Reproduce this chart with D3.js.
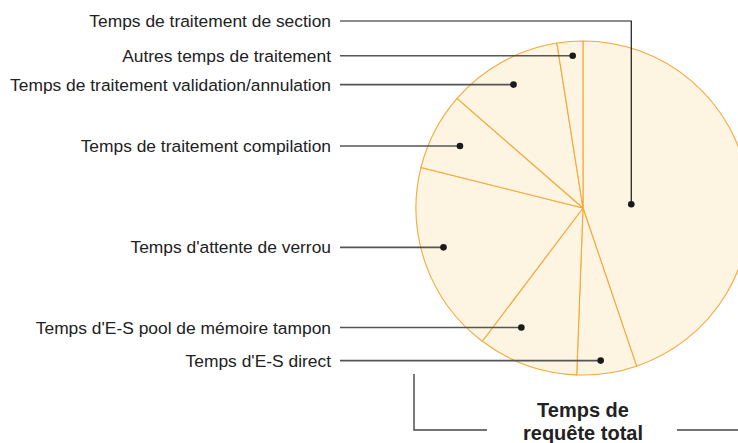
<!DOCTYPE html>
<html>
<head>
<meta charset="utf-8">
<script src="https://cdn.jsdelivr.net/npm/d3@7"></script>
<style>
  body { margin: 0; background: #fff; }
  svg { display: block; font-family: "Liberation Sans", Arial, sans-serif; }
</style>
</head>
<body>
<div id="chart"></div>
<script>
const width = 738
const height = 443

// slices, clockwise from 12 o'clock (share of total request time, %)
const categories = [
    "Temps de traitement de section",
    "Temps d'E-S direct",
    "Temps d'E-S pool de mémoire tampon",
    "Temps d'attente de verrou",
    "Temps de traitement compilation",
    "Temps de traitement validation/annulation",
    "Autres temps de traitement"
]
const values = [44.8, 5.8, 9.7, 18.6, 7.5, 11.1, 2.5]
const titleLines = ["Temps de", "requête total"]

const cx = 583, cy = 208, R = 167
const labelRight = 331 // right edge of label text
const lineStart = 340

// where each leader dot sits inside its slice: share of the slice angle, share of the radius
const dotAngle = [0.53, 0.58, 0.72, 0.555, 0.47, 0.49, 0.57]
const dotRadius = [0.29, 0.92, 0.805, 0.868, 0.825, 0.848, 0.914]

const svg = d3.select("#chart").append("svg")
    .attr("width", width)
    .attr("height", height)

const data = categories.map((c, i) => ({ name: c, value: values[i] }))

const pie = d3.pie().sort(null).value(d => d.value)
const arcs = pie(data)
const arc = d3.arc().innerRadius(0).outerRadius(R)

const g = svg.append("g").attr("transform", `translate(${cx},${cy})`)

g.selectAll("path.slice")
    .data(arcs)
    .enter()
    .append("path")
    .attr("class", "slice")
    .attr("d", arc)
    .attr("fill", "#fdf5e1")
    .attr("stroke", "#f2a93b")
    .attr("stroke-width", 1.1)
    .attr("stroke-linejoin", "round")

function dotPos(d, i) {
    const a = d.startAngle + (d.endAngle - d.startAngle) * dotAngle[i]
    const r = R * dotRadius[i]
    return [cx + r * Math.sin(a), cy - r * Math.cos(a)]
}

const labels = arcs.map((d, i) => {
    const p = dotPos(d, i)
    return { name: d.data.name, x: p[0], y: p[1], i: i }
})

// the big slice is labelled from the top with an elbow line
const topY = 21
labels.forEach(l => { l.ly = l.i === 0 ? topY : l.y })

svg.selectAll("path.leader")
    .data(labels)
    .enter()
    .append("path")
    .attr("class", "leader")
    .attr("d", l => l.i === 0
        ? `M${lineStart},${l.ly}H${l.x}V${l.y}`
        : `M${lineStart},${l.ly}H${l.x}`)
    .attr("fill", "none")
    .attr("stroke", l => l.i === 0 ? "#1a1a1a" : "#555")
    .attr("stroke-width", l => l.i === 0 ? 1.2 : 1.6)

svg.selectAll("circle.dot")
    .data(labels)
    .enter()
    .append("circle")
    .attr("class", "dot")
    .attr("cx", l => l.x)
    .attr("cy", l => l.y)
    .attr("r", 3.3)
    .attr("fill", "#1a1a1a")

svg.selectAll("text.label")
    .data(labels)
    .enter()
    .append("text")
    .attr("class", "label")
    .attr("x", labelRight)
    .attr("y", l => l.ly)
    .attr("dy", "0.35em")
    .attr("text-anchor", "end")
    .attr("font-size", 17.4)
    .attr("fill", "#222")
    .text(l => l.name)

// total bracket and title under the pie
svg.append("path")
    .attr("d", `M${cx - R - 2},${cy + R - 1}V430H487`)
    .attr("fill", "none")
    .attr("stroke", "#444")
    .attr("stroke-width", 1.4)

svg.append("path")
    .attr("d", `M677,430H${width}`)
    .attr("fill", "none")
    .attr("stroke", "#444")
    .attr("stroke-width", 1.4)

svg.selectAll("text.title")
    .data(titleLines)
    .enter()
    .append("text")
    .attr("class", "title")
    .attr("x", cx)
    .attr("y", (d, i) => 417 + i * 23)
    .attr("text-anchor", "middle")
    .attr("font-size", 20)
    .attr("font-weight", "bold")
    .attr("fill", "#222")
    .text(d => d)
</script>
</body>
</html>
